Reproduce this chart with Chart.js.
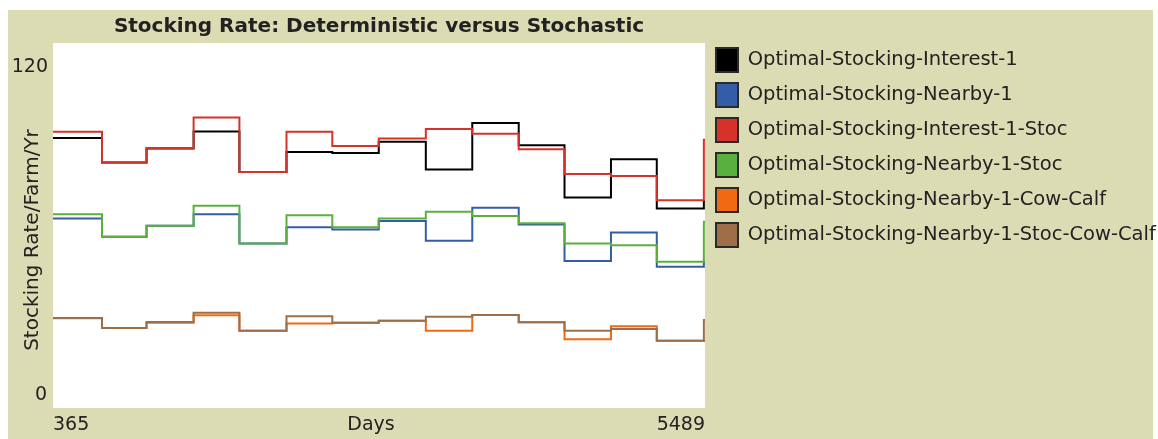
<!DOCTYPE html>
<html>
<head>
<meta charset="utf-8">
<script src="https://cdn.jsdelivr.net/npm/chart.js@4.4.1/dist/chart.umd.min.js"></script>
<style>
  html, body { margin: 0; padding: 0; background: #ffffff; }
  #wrap { position: relative; width: 1158px; height: 439px; }
</style>
</head>
<body>
<div id="wrap"><canvas id="stockChart" width="1158" height="439"></canvas></div>
<script>
// days at which the yearly stocking value changes (last one = end of run)
const days = [365, 750, 1100, 1470, 1830, 2200, 2560, 2925, 3295, 3660, 4025, 4385, 4750, 5110, 5480, 5489];
const xTicks = [365, 5489];
const yTicks = [0, 120];

const interest1        = [88.8, 80.7, 85.3, 90.9, 77.6, 84.2, 83.8, 87.5, 78.4, 93.7, 86.4, 69.2, 81.8, 65.6, 68.0, 68.0];
const nearby1          = [62.3, 56.3, 59.9, 63.7, 54.1, 59.4, 58.7, 61.5, 55.0, 65.8, 60.3, 48.3, 57.7, 46.4, 48.0, 48.0];
const interest1Stoc    = [90.8, 80.7, 85.5, 95.5, 77.6, 90.8, 86.1, 88.6, 91.7, 90.2, 85.1, 76.9, 76.3, 68.3, 88.2, 88.2];
const nearby1Stoc      = [63.7, 56.3, 59.9, 66.5, 54.1, 63.4, 59.4, 62.3, 64.5, 63.1, 60.7, 54.1, 53.5, 48.1, 61.2, 61.2];
const nearby1CowCalf   = [29.5, 26.3, 28.0, 30.5, 25.4, 27.8, 28.0, 28.7, 25.4, 30.6, 28.2, 22.6, 26.9, 22.1, 22.1, 22.1];
const nearby1StocCow   = [29.6, 26.3, 28.3, 31.3, 25.4, 30.2, 28.0, 28.7, 30.0, 30.6, 28.2, 25.4, 26.0, 22.1, 28.9, 28.9];

const seriesNames = [
    'Optimal-Stocking-Interest-1',
    'Optimal-Stocking-Nearby-1',
    'Optimal-Stocking-Interest-1-Stoc',
    'Optimal-Stocking-Nearby-1-Stoc',
    'Optimal-Stocking-Nearby-1-Cow-Calf',
    'Optimal-Stocking-Nearby-1-Stoc-Cow-Calf'
];
const seriesValues = [interest1, nearby1, interest1Stoc, nearby1Stoc, nearby1CowCalf, nearby1StocCow];

// NetLogo style pen colours
const penColors = ['#000000', '#345da9', '#d73229', '#59b03c', '#f16913', '#9d6e48'];

const BEIGE = '#dcdcb4';
const TEXT = '#222222';
const FONT = 'DejaVu Sans';
const legendFontSize = 19.5;

// work out right padding so the plot ends where the legend starts
const mctx = document.createElement('canvas').getContext('2d');
mctx.font = legendFontSize + 'px "' + FONT + '"';
const longest = Math.max(...seriesNames.map(n => mctx.measureText(n).width));
const legendPad = 11, legendBoxW = 22, legendBoxH = 24;
const legendWidth = 2 * legendPad + legendBoxW + legendFontSize / 2 + longest;
const plotRight = 704;
const padRight = 1158 - plotRight - legendWidth;

const framePlugin = {
    id: 'frame',
    afterLayout(chart) {
        // move legend a bit up, like the reference
        chart.legend.top -= 6;
        chart.legend.bottom -= 6;
    },
    beforeDraw(chart) {
        const { ctx, chartArea: a } = chart;
        ctx.save();
        ctx.fillStyle = '#ffffff';
        ctx.fillRect(0, 0, chart.width, chart.height);
        ctx.fillStyle = BEIGE;
        ctx.fillRect(8, 10, 1145, 429);
        ctx.fillStyle = '#ffffff';
        ctx.fillRect(a.left, a.top, a.right - a.left, a.bottom - a.top);
        ctx.restore();
    },
    afterDraw(chart) {
        const { ctx, chartArea: a, scales } = chart;
        ctx.save();
        ctx.fillStyle = TEXT;

        // title, centred over plot
        ctx.font = 'bold 20px "' + FONT + '"';
        ctx.textAlign = 'center';
        ctx.textBaseline = 'middle';
        ctx.fillText('Stocking Rate: Deterministic versus Stochastic', (a.left + a.right) / 2, 27, 538);

        // y tick labels sit inside the ends of the axis
        ctx.font = '19px "' + FONT + '"';
        ctx.textAlign = 'right';
        ctx.fillText(String(yTicks[1]), a.left - 5, scales.y.getPixelForValue(yTicks[1]) + 24);
        ctx.fillText(String(yTicks[0]), a.left - 6, scales.y.getPixelForValue(yTicks[0]) - 13);

        // y axis title
        ctx.save();
        ctx.translate(33, 240);
        ctx.rotate(-Math.PI / 2);
        ctx.textAlign = 'center';
        ctx.font = '20px "' + FONT + '"';
        ctx.fillText('Stocking Rate/Farm/Yr', 0, 0, 224);
        ctx.restore();

        // x axis title on the same line as the tick labels
        ctx.textAlign = 'center';
        ctx.font = '19px "' + FONT + '"';
        ctx.fillText('Days', (a.left + a.right) / 2 - 8, a.bottom + 17);
        ctx.restore();
    }
};

const datasets = seriesNames.map((name, i) => ({
    label: name,
    data: days.map((d, j) => ({ x: d, y: seriesValues[i][j] })),
    borderColor: penColors[i],
    backgroundColor: penColors[i],
    borderWidth: 2,
    stepped: 'before',
    pointRadius: 0,
    tension: 0,
    order: 6 - i
}));

new Chart(document.getElementById('stockChart'), {
    type: 'line',
    data: { datasets },
    plugins: [framePlugin],
    options: {
        responsive: false,
        animation: false,
        layout: { padding: { top: 43, left: 0, right: padRight, bottom: 0 } },
        plugins: {
            title: { display: false },
            tooltip: { enabled: false },
            legend: {
                position: 'right',
                align: 'start',
                maxWidth: 600,
                labels: {
                    boxWidth: legendBoxW,
                    boxHeight: legendBoxH,
                    padding: legendPad,
                    color: TEXT,
                    font: { family: FONT, size: legendFontSize },
                    sort: (a, b) => a.datasetIndex - b.datasetIndex,
                    generateLabels: chart => Chart.defaults.plugins.legend.labels.generateLabels(chart)
                        .map(item => ({ ...item, strokeStyle: '#2a2a2a', lineWidth: 2 }))
                }
            }
        },
        scales: {
            x: {
                type: 'linear',
                min: xTicks[0],
                max: xTicks[1],
                grid: { display: false },
                border: { display: false },
                ticks: {
                    align: 'inner',
                    maxRotation: 0,
                    autoSkip: false,
                    padding: -2,
                    color: TEXT,
                    font: { family: FONT, size: 19 },
                    callback: v => String(v)
                },
                afterBuildTicks: s => { s.ticks = xTicks.map(v => ({ value: v })); },
                afterFit: s => { s.height = 31; }
            },
            y: {
                min: yTicks[0],
                max: yTicks[1],
                grid: { display: false },
                border: { display: false },
                ticks: { display: false },
                afterFit: s => { s.width = 53; }
            }
        }
    }
});
</script>
</body>
</html>
